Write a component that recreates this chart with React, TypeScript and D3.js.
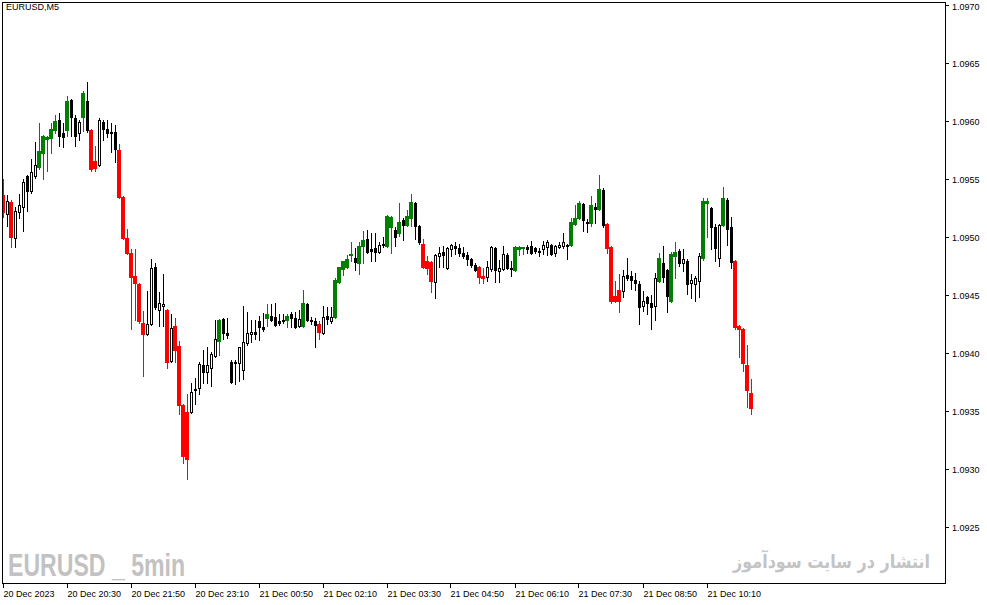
import * as d3 from "d3";

// 5-minute EURUSD bars (oldest first)
const openP = [
  1.09536, 1.0952, 1.0953, 1.09499, 1.09521, 1.09526, 1.09552, 1.09539, 1.09552, 1.0956,
  1.09572, 1.09584, 1.09585, 1.09592, 1.09601, 1.09589, 1.09592, 1.09618, 1.09602, 1.09589,
  1.09603, 1.09617, 1.09592, 1.09565, 1.09562, 1.09599, 1.09593, 1.0959, 1.0959, 1.09575,
  1.09534, 1.09499, 1.09486, 1.09466, 1.09459, 1.09426, 1.09416, 1.09425, 1.09474, 1.09437,
  1.0944, 1.09437, 1.09393, 1.09423, 1.09406, 1.09355, 1.09349, 1.09349, 1.09369, 1.0937,
  1.09389, 1.09383, 1.09387, 1.09397, 1.0941, 1.09429, 1.09417, 1.09392, 1.09391, 1.09391,
  1.09385, 1.09408, 1.09416, 1.09418, 1.09427, 1.09422, 1.0943, 1.09432, 1.09431, 1.09427,
  1.09428, 1.09428, 1.09433, 1.0943, 1.09423, 1.09423, 1.09442, 1.09428, 1.09427, 1.09425,
  1.09417, 1.09432, 1.09427, 1.09431, 1.09461, 1.09472, 1.09474, 1.09484, 1.09482, 1.09477,
  1.09492, 1.09498, 1.09489, 1.0949, 1.09487, 1.09493, 1.09492, 1.09508, 1.09506, 1.09503,
  1.09514, 1.0951, 1.09516, 1.09529, 1.09509, 1.09494, 1.09479, 1.09478, 1.09461, 1.09483,
  1.09487, 1.09473, 1.09489, 1.09492, 1.0949, 1.09486, 1.09484, 1.09481, 1.09476, 1.09474,
  1.09466, 1.09465, 1.09472, 1.0949, 1.0947, 1.09472, 1.09484, 1.09473, 1.09471, 1.09489,
  1.0949, 1.09491, 1.09492, 1.0949, 1.09488, 1.09489, 1.09491, 1.09493, 1.09486, 1.09491,
  1.09492, 1.09493, 1.09493, 1.09511, 1.09516, 1.09528, 1.09513, 1.09512, 1.09526, 1.09524,
  1.0954, 1.09511, 1.09491, 1.09449, 1.09454, 1.09453, 1.09467, 1.09466, 1.09463, 1.09459,
  1.0944, 1.09448, 1.09443, 1.0944, 1.09462, 1.09477, 1.09471, 1.09445, 1.09483, 1.09488,
  1.09477, 1.09479, 1.0946, 1.09459, 1.09462, 1.09482, 1.09529, 1.09525, 1.09508, 1.09482,
  1.0951, 1.09532, 1.09508, 1.09479, 1.09423, 1.0942, 1.09389, 1.09365,
];
const highP = [
  1.0955, 1.09536, 1.09532, 1.09526, 1.09537, 1.0955, 1.09553, 1.09567, 1.09582, 1.09598,
  1.09588, 1.09587, 1.09598, 1.09605, 1.09607, 1.09598, 1.09621, 1.09619, 1.09605, 1.09601,
  1.09626, 1.09633, 1.09593, 1.09578, 1.09602, 1.09601, 1.09601, 1.09598, 1.09596, 1.0958,
  1.09535, 1.09507, 1.09489, 1.09489, 1.0946, 1.09436, 1.09453, 1.09481, 1.09477, 1.09452,
  1.09468, 1.09438, 1.09433, 1.0943, 1.0941, 1.09356, 1.09364, 1.09374, 1.09378, 1.09392,
  1.09402, 1.09405, 1.09401, 1.09428, 1.09429, 1.0943, 1.0943, 1.09394, 1.09394, 1.09405,
  1.0944, 1.09435, 1.09428, 1.09428, 1.09432, 1.09434, 1.09442, 1.09442, 1.09443, 1.09433,
  1.09433, 1.09433, 1.09435, 1.09435, 1.09437, 1.09454, 1.09443, 1.09431, 1.0943, 1.09427,
  1.0944, 1.09439, 1.09439, 1.09464, 1.09474, 1.09479, 1.09484, 1.09495, 1.0949, 1.09495,
  1.09505, 1.09506, 1.09503, 1.09503, 1.09495, 1.095, 1.09519, 1.09518, 1.09508, 1.09529,
  1.09516, 1.09523, 1.09537, 1.0953, 1.0951, 1.09498, 1.09483, 1.09479, 1.09485, 1.09491,
  1.09492, 1.09491, 1.09494, 1.09495, 1.09494, 1.09491, 1.09487, 1.09482, 1.09477, 1.09475,
  1.09473, 1.09479, 1.09492, 1.09491, 1.0948, 1.09492, 1.09486, 1.09479, 1.09492, 1.09492,
  1.09491, 1.09493, 1.09496, 1.09491, 1.0949, 1.09496, 1.09497, 1.09494, 1.09493, 1.09495,
  1.09503, 1.09494, 1.09516, 1.09527, 1.09531, 1.09529, 1.09515, 1.09535, 1.09529, 1.09553,
  1.09542, 1.09512, 1.09492, 1.09462, 1.09468, 1.09471, 1.09482, 1.0947, 1.09469, 1.09462,
  1.09453, 1.09449, 1.0945, 1.09469, 1.09486, 1.09492, 1.09472, 1.09487, 1.09495, 1.09489,
  1.09489, 1.09481, 1.09468, 1.09466, 1.09486, 1.09533, 1.09533, 1.09526, 1.09511, 1.09511,
  1.09543, 1.09533, 1.09517, 1.0948, 1.09424, 1.09421, 1.09407, 1.09377,
];
const lowP = [
  1.09517, 1.09509, 1.09491, 1.09491, 1.09516, 1.09505, 1.09522, 1.09538, 1.09551, 1.09558,
  1.0955, 1.09557, 1.09572, 1.09589, 1.09578, 1.09577, 1.09587, 1.09587, 1.09578, 1.09583,
  1.09591, 1.0959, 1.09557, 1.09557, 1.09561, 1.09583, 1.09586, 1.09573, 1.09564, 1.09533,
  1.09498, 1.09485, 1.0942, 1.09428, 1.09426, 1.0938, 1.09415, 1.09424, 1.09438, 1.09423,
  1.09423, 1.09387, 1.09392, 1.09392, 1.09347, 1.09305, 1.09291, 1.09348, 1.09356, 1.09364,
  1.09374, 1.09374, 1.09371, 1.09396, 1.09398, 1.09412, 1.09413, 1.09374, 1.09373, 1.09376,
  1.09377, 1.09407, 1.09409, 1.09412, 1.09411, 1.09419, 1.09423, 1.09427, 1.09423, 1.09424,
  1.09426, 1.09422, 1.09422, 1.09421, 1.09422, 1.09422, 1.09427, 1.09425, 1.09405, 1.09412,
  1.09416, 1.09425, 1.09426, 1.0943, 1.0946, 1.09467, 1.09473, 1.09479, 1.09471, 1.09468,
  1.09477, 1.09486, 1.09479, 1.09479, 1.09486, 1.09491, 1.09491, 1.09486, 1.09492, 1.09501,
  1.09497, 1.09509, 1.09509, 1.09498, 1.09494, 1.09473, 1.09468, 1.09452, 1.09447, 1.09474,
  1.09474, 1.09472, 1.09483, 1.09485, 1.09483, 1.09482, 1.09476, 1.09474, 1.0947, 1.0946,
  1.0946, 1.09462, 1.0947, 1.09461, 1.09461, 1.09471, 1.09472, 1.09466, 1.0947, 1.09484,
  1.09485, 1.09486, 1.09485, 1.09486, 1.09483, 1.09485, 1.09484, 1.09484, 1.09483, 1.0949,
  1.0949, 1.09481, 1.09492, 1.0951, 1.09515, 1.09505, 1.09504, 1.09509, 1.09512, 1.09523,
  1.09508, 1.09486, 1.09443, 1.09444, 1.09435, 1.09448, 1.09463, 1.09455, 1.09454, 1.09425,
  1.09436, 1.09433, 1.0942, 1.09428, 1.09461, 1.09461, 1.09435, 1.09444, 1.09464, 1.09475,
  1.0947, 1.09451, 1.09447, 1.09445, 1.09448, 1.0948, 1.095, 1.09489, 1.09479, 1.09475,
  1.09509, 1.09493, 1.09473, 1.0942, 1.09396, 1.09384, 1.09353, 1.09347,
];
const closeP = [
  1.09521, 1.09531, 1.095, 1.09522, 1.09527, 1.09547, 1.09539, 1.09556, 1.09562, 1.09574,
  1.09587, 1.09586, 1.09593, 1.096, 1.09587, 1.09586, 1.09617, 1.09603, 1.09587, 1.09599,
  1.09624, 1.09592, 1.09558, 1.09559, 1.09601, 1.09593, 1.09589, 1.09589, 1.09576, 1.09534,
  1.09499, 1.09486, 1.09465, 1.0946, 1.09427, 1.09416, 1.09425, 1.09473, 1.09439, 1.09443,
  1.09442, 1.09392, 1.09421, 1.09402, 1.09355, 1.09311, 1.09308, 1.09366, 1.09368, 1.0939,
  1.09383, 1.09389, 1.09399, 1.09412, 1.09428, 1.09417, 1.09415, 1.09375, 1.09392, 1.09405,
  1.09409, 1.09417, 1.09418, 1.09416, 1.09422, 1.0942, 1.09433, 1.09428, 1.09424, 1.09426,
  1.09427, 1.09432, 1.0943, 1.09422, 1.09429, 1.09443, 1.09428, 1.09427, 1.09424, 1.09418,
  1.09431, 1.09429, 1.09431, 1.09463, 1.09474, 1.09479, 1.09481, 1.09485, 1.09478, 1.09492,
  1.09497, 1.09487, 1.09488, 1.09487, 1.09493, 1.09494, 1.09518, 1.09517, 1.095, 1.09513,
  1.0951, 1.09518, 1.0953, 1.09509, 1.09495, 1.09474, 1.09473, 1.09462, 1.09484, 1.09486,
  1.09484, 1.0949, 1.09493, 1.0949, 1.09486, 1.09483, 1.09481, 1.09476, 1.09471, 1.09465,
  1.09464, 1.09474, 1.09491, 1.09471, 1.09473, 1.09485, 1.09473, 1.09472, 1.09491, 1.09491,
  1.09491, 1.09489, 1.09486, 1.09488, 1.09487, 1.09493, 1.09495, 1.09485, 1.09492, 1.09493,
  1.09495, 1.09492, 1.09513, 1.09516, 1.09529, 1.09514, 1.09512, 1.09527, 1.09524, 1.09541,
  1.0951, 1.0949, 1.09445, 1.09445, 1.09445, 1.09466, 1.09464, 1.09463, 1.0946, 1.09439,
  1.09445, 1.09443, 1.09439, 1.09464, 1.09482, 1.09465, 1.09449, 1.09485, 1.09487, 1.09477,
  1.09481, 1.09459, 1.09463, 1.09464, 1.09483, 1.09531, 1.09531, 1.09508, 1.0949, 1.0951,
  1.09533, 1.09507, 1.09478, 1.09422, 1.0942, 1.09391, 1.09368, 1.09352,
];
// indicator colouring: 1 = green, -1 = red, 0 = ordinary candle
const trend = [
  -1, 0, -1, 0, 0, 0, 0, 0, 0, 1,
  1, 1, 1, 1, 0, 0, 1, 0, 0, 0,
  1, 0, -1, -1, 0, 0, 0, 0, 0, -1,
  -1, -1, -1, -1, -1, -1, 0, 0, 0, 0,
  0, -1, 0, -1, -1, -1, -1, 0, 0, 0,
  0, 0, 0, 0, 1, 0, 0, 0, 0, 0,
  0, 0, 0, 0, 0, 0, 1, 0, 0, 0,
  0, 1, 0, 0, 0, 1, 0, 0, 0, -1,
  0, 0, 0, 1, 1, 1, 1, 1, 0, 1,
  1, 0, 0, 0, 0, 0, 1, 1, 0, 1,
  0, 1, 1, 0, 0, -1, -1, -1, 0, 0,
  0, 0, 0, 0, 0, 0, 0, 0, 0, -1,
  -1, 0, 0, 0, 0, 0, 0, 0, 1, 1,
  1, 0, 0, 0, 0, 0, 0, 0, 0, 0,
  0, 0, 1, 1, 1, 0, 0, 1, 0, 1,
  0, -1, -1, -1, -1, 0, 0, 0, 0, 0,
  0, 0, 0, 0, 1, 0, 0, 1, 1, 0,
  0, 0, 0, 0, 0, 1, 1, 0, 0, 0,
  1, 0, 0, -1, -1, -1, -1, -1,
];

const timeLabels = [
  "20 Dec 2023", "20 Dec 20:30", "20 Dec 21:50", "20 Dec 23:10", "21 Dec 00:50", "21 Dec 02:10",
  "21 Dec 03:30", "21 Dec 04:50", "21 Dec 06:10", "21 Dec 07:30", "21 Dec 08:50", "21 Dec 10:10",
];
const barsPerLabel = 16;
const priceTicks = [1.0925, 1.093, 1.0935, 1.094, 1.0945, 1.095, 1.0955, 1.096, 1.0965, 1.097];

const chartTitle = "EURUSD,M5";
const markLeft = "EURUSD _ 5min";
const markRight = "انتشار در سایت سودآموز";

const W = 987, H = 605;
const frame = { left: 2.5, top: 2.5, right: 945.5, bottom: 583.5 };
const GREEN = "#008000", RED = "#ff0000";
const font = "'Liberation Sans', Arial, sans-serif";

export default function App() {
  const n = openP.length;
  // MT5 draws one bar every 4px
  const x = d3.scaleLinear().domain([0, n - 1]).range([3.5, 3.5 + 4 * (n - 1)]);
  const y = d3.scaleLinear().domain([1.0925, 1.097]).range([526.7, 4.7]);
  const py = (v: number) => Math.round(y(v));

  const candles = d3.range(n).map((i) => {
    const o = openP[i], c = closeP[i];
    const cx = x(i);
    const t = trend[i];
    const wTop = py(highP[i]), wBot = py(lowP[i]);
    const bTop = py(Math.max(o, c)), bBot = py(Math.min(o, c));
    const bh = bBot - bTop + 1;
    const col = t === 1 ? GREEN : t === -1 ? RED : "#000";
    return (
      <g key={i}>
        <rect x={cx - 0.5} y={wTop} width={1} height={wBot - wTop + 1} fill={col} />
        {t !== 0 ? (
          <rect x={cx - 2.5} y={bTop} width={4} height={bh} fill={col} />
        ) : (
          <>
            <rect x={cx - 1.5} y={bTop} width={3} height={bh} fill="#000" />
            {c > o && bh > 2 && <rect x={cx - 0.5} y={bTop + 1} width={1} height={bh - 2} fill="#fff" />}
          </>
        )}
      </g>
    );
  });

  return (
    <div style={{ position: "absolute", left: 0, top: 0 }}>
      <svg width={W} height={H} viewBox={`0 0 ${W} ${H}`} style={{ display: "block", background: "#fff" }}>
        <defs>
          <clipPath id="plotClip">
            <rect x={3} y={3} width={942} height={580} />
          </clipPath>
        </defs>

        {/* watermarks */}
        <text x={8} y={576} fontFamily="'Liberation Sans Narrow', 'Liberation Sans', Arial, sans-serif"
          fontWeight="bold" fontSize={32} fill="#c2c2c2" textLength={177} lengthAdjust="spacingAndGlyphs">
          {markLeft}
        </text>
        <text x={930} y={568} fontFamily="'DejaVu Sans', sans-serif" fontWeight="bold" fontSize={19}
          fill="#c4c4c4" textAnchor="end" textLength={197} lengthAdjust="spacingAndGlyphs">
          {markRight}
        </text>

        <g clipPath="url(#plotClip)" shapeRendering="crispEdges">{candles}</g>

        <rect x={frame.left} y={frame.top} width={frame.right - frame.left} height={frame.bottom - frame.top}
          fill="none" stroke="#000" strokeWidth={1} shapeRendering="crispEdges" />

        <text x={6} y={10} fontFamily={font} fontSize={9} fill="#000">{chartTitle}</text>

        {/* price axis */}
        <g fontFamily={font} fontSize={9} fill="#000">
          {priceTicks.map((v) => {
            const ty = py(v) + 0.5;
            return (
              <g key={v}>
                <line x1={946} x2={949} y1={ty} y2={ty} stroke="#000" shapeRendering="crispEdges" />
                <text x={952} y={Math.max(ty + 3.5, 10)}>{d3.format(".4f")(v)}</text>
              </g>
            );
          })}
        </g>

        {/* time axis */}
        <g fontFamily={font} fontSize={9} fill="#000">
          {timeLabels.map((lab, k) => {
            const tx = Math.round(x(k * barsPerLabel)) - 0.5;
            return (
              <g key={lab}>
                <line x1={tx} x2={tx} y1={584} y2={588} stroke="#000" shapeRendering="crispEdges" />
                <text x={tx} y={597}>{lab}</text>
              </g>
            );
          })}
        </g>
      </svg>
    </div>
  );
}
